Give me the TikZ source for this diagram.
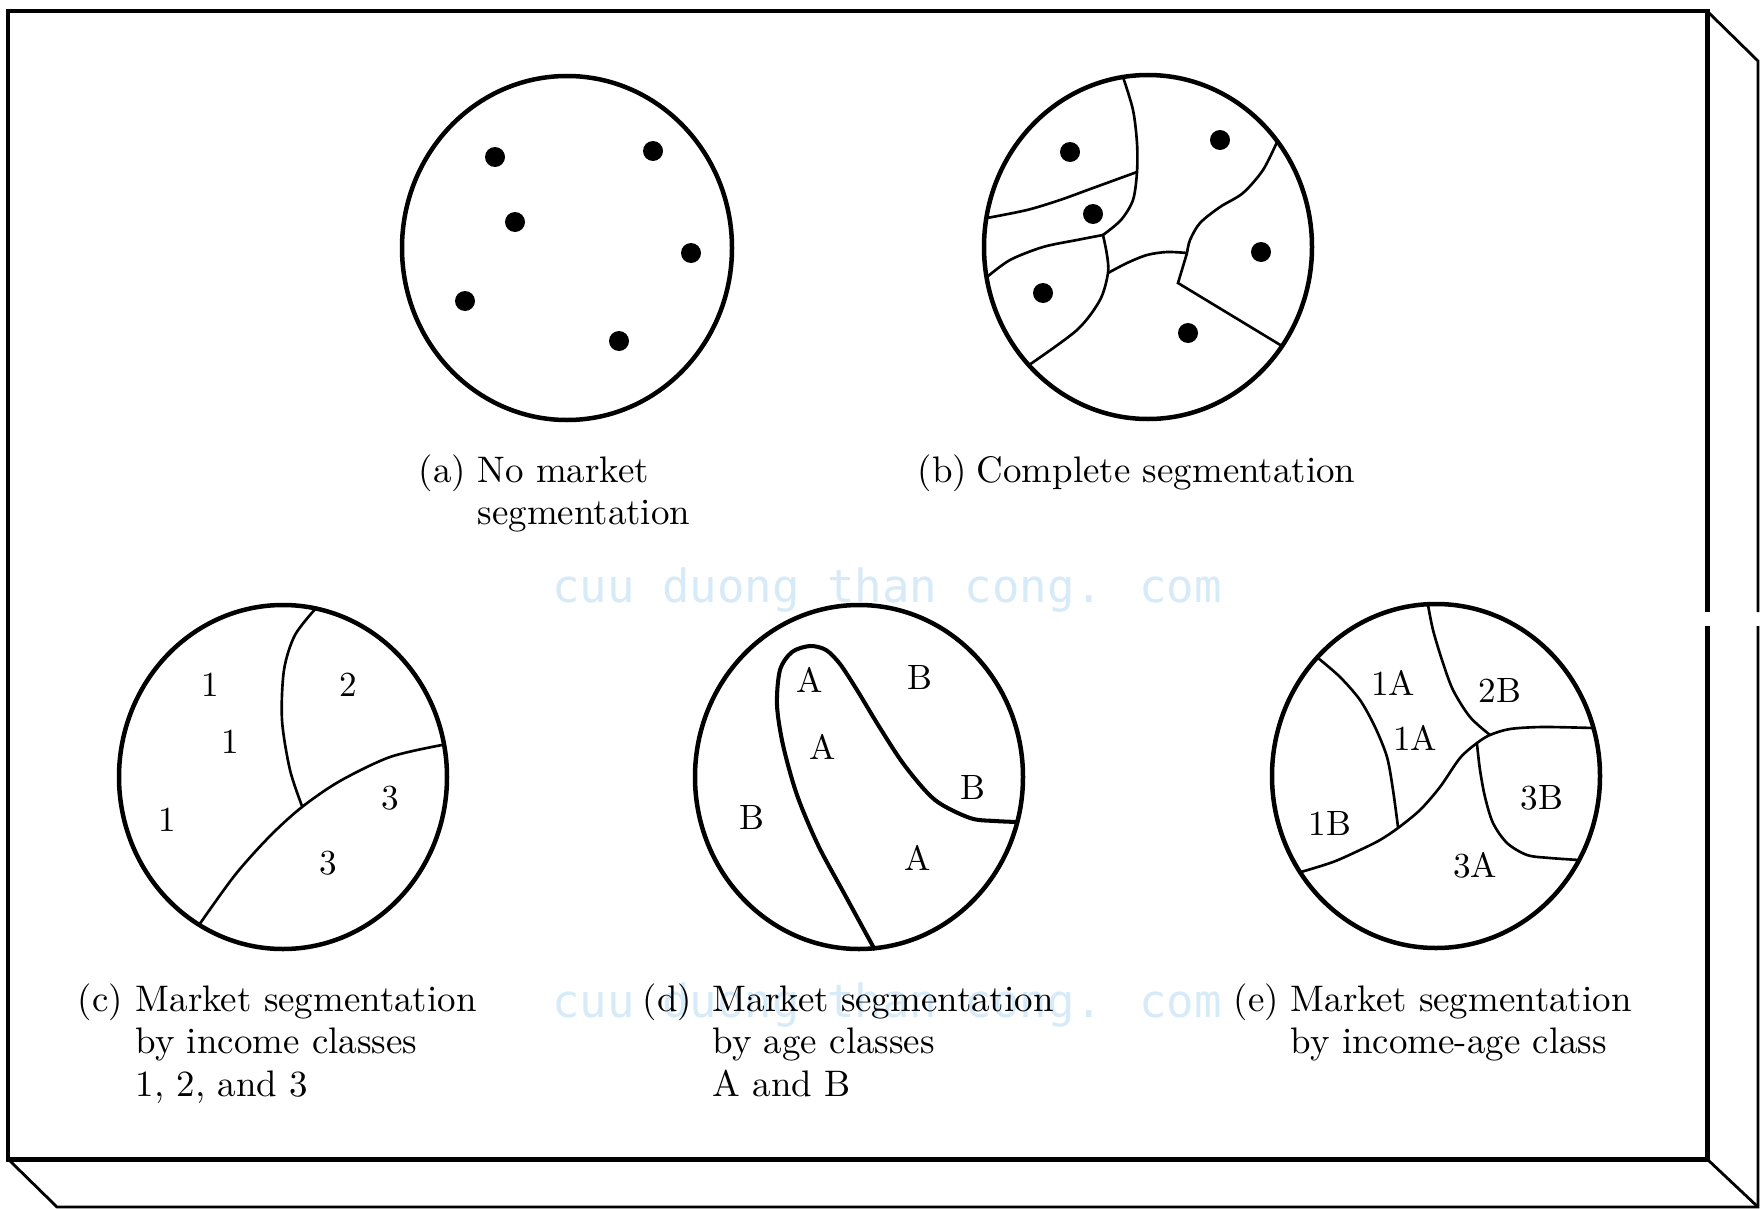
\documentclass[tikz,border=0pt]{standalone}
\usepackage{fontspec}
\newfontfamily\wmfont{DejaVu Sans Mono}
\definecolor{wmark}{HTML}{D6EAF8}

\begin{document}
\begin{tikzpicture}[x=0.01cm, y=-0.01cm,
        ring/.style={line width=1.28pt},
        seg/.style={line width=0.75pt},
        lbl/.style={font=\fontsize{10}{12}\selectfont, inner sep=0pt},
        captext/.style={font=\fontsize{10.5}{12.2}\selectfont, anchor=base west, inner sep=0pt},
        wm/.style={text=wmark, font=\wmfont\fontsize{13}{13}\selectfont, anchor=base, inner sep=0pt}]
        \useasboundingbox (0,0) rectangle (1760,1209);

        % box
        \draw[line width=1.42pt] (1707,612) -- (1707,11) -- (8,11) -- (8,1159) -- (1707,1159) -- (1707,626);
        \draw[line width=0.8pt] (1707,11) -- (1758,61) -- (1758,612);
        \draw[line width=0.8pt] (1758,626) -- (1758,1207) -- (57,1207) -- (8,1159);
        \draw[line width=0.8pt] (1707,1159) -- (1758,1207);

        \node[wm] (wm1) at (887,602) {cuu duong than cong. com};
        \node[wm] (wm2) at (887,1017) {cuu duong than cong. com};

        % (a)
        \draw[ring] (567,248) ellipse (165 and 172);
        \foreach \x/\y in {495/157, 653/151, 515/222, 691/253, 465/301, 619/341}
            \fill (\x,\y) circle (10);

        % (b)
        \draw[ring] (1148,247) ellipse (164 and 172);
        \foreach \x/\y in {1070/152, 1220/140, 1093/214, 1261/252, 1043/293, 1188/333}
            \fill (\x,\y) circle (10);
        \draw[seg] plot[smooth] coordinates {(1123,77) (1133,110) (1137,143) (1137,172) (1133,200) (1121,220) (1103,235)};
        \draw[seg] plot[smooth] coordinates {(987,218) (1027,210) (1060,200) (1093,188) (1137,172)};
        \draw[seg] plot[smooth] coordinates {(987,277) (1010,260) (1043,247) (1077,240) (1103,235)};
        \draw[seg] plot[smooth] coordinates {(1103,235) (1107,255) (1108,273) (1100,300) (1077,330) (1029,365)};
        \draw[seg] plot[smooth] coordinates {(1108,273) (1127,263) (1147,255) (1167,252) (1187,253)};
        \draw[seg] plot[smooth] coordinates {(1187,253) (1190,240) (1200,223) (1220,207) (1243,193) (1263,170) (1277,142)};
        \draw[seg] (1187,253) -- (1178,283) -- (1282,346);

        % (c)
        \draw[ring] (283,777) ellipse (164 and 172);
        \draw[seg] plot[smooth] coordinates {(317,607) (295,635) (284,670) (282,720) (290,770) (302,806)};
        \draw[seg] plot[smooth] coordinates {(199,925) (235,875) (270,836) (302,807) (340,781) (390,757) (442,745)};
        \node[lbl] (c1) at (210,685) {1};
        \node[lbl] (c2) at (348,685) {2};
        \node[lbl] (c3) at (230,742) {1};
        \node[lbl] (c4) at (390,798) {3};
        \node[lbl] (c5) at (167,820) {1};
        \node[lbl] (c6) at (328,863) {3};

        % (d)
        \draw[ring] (859,777) ellipse (164 and 172);
        \draw[line width=1.15pt] plot[smooth] coordinates {(875,950) (845,895) (818,845) (797,795) (783,745) (777,705) (780,670) (792,652) (810,646) (826,650) (840,664) (857,690) (880,728) (905,766) (935,800) (970,818) (995,821) (1018,822)};
        \node[lbl] (d1) at (810,680) {A};
        \node[lbl] (d2) at (920,677) {B};
        \node[lbl] (d3) at (823,747) {A};
        \node[lbl] (d4) at (973,787) {B};
        \node[lbl] (d5) at (752,817) {B};
        \node[lbl] (d6) at (918,858) {A};

        % (e)
        \draw[ring] (1436,776) ellipse (164 and 172);
        \draw[seg] plot[smooth] coordinates {(1318,658) (1340,677) (1360,700) (1375,727) (1387,757) (1393,790) (1398,827)};
        \draw[seg] plot[smooth] coordinates {(1301,872) (1333,862) (1360,850) (1380,840) (1398,828) (1420,810) (1440,787) (1460,758) (1477,743) (1490,735) (1510,729) (1543,727) (1593,728)};
        \draw[seg] plot[smooth] coordinates {(1428,605) (1433,630) (1442,660) (1453,690) (1470,717) (1490,735)};
        \draw[seg] plot[smooth] coordinates {(1477,744) (1480,770) (1485,797) (1493,823) (1507,843) (1527,855) (1550,858) (1579,860)};
        \node[lbl] (e1) at (1393,683) {1A};
        \node[lbl] (e2) at (1500,690) {2B};
        \node[lbl] (e3) at (1415,738) {1A};
        \node[lbl] (e4) at (1542,798) {3B};
        \node[lbl] (e5) at (1330,823) {1B};
        \node[lbl] (e6) at (1475,865) {3A};

        % captions
        \node[captext] (taga) at (418,482) {(a)};
        \node[captext] (capa) at (477,482) {\begin{tabular}[t]{@{}l@{}}No market\\segmentation\end{tabular}};
        \node[captext] (tagb) at (917,482) {(b)};
        \node[captext] (capb) at (976,482) {Complete segmentation};
        \node[captext] (tagc) at (77,1011) {(c)};
        \node[captext] (capc) at (135,1011) {\begin{tabular}[t]{@{}l@{}}Market segmentation\\by income classes\\1, 2, and 3\end{tabular}};
        \node[captext] (tagd) at (642,1011) {(d)};
        \node[captext] (capd) at (712,1011) {\begin{tabular}[t]{@{}l@{}}Market segmentation\\by age classes\\A and B\end{tabular}};
        \node[captext] (tage) at (1233,1011) {(e)};
        \node[captext] (cape) at (1290,1011) {\begin{tabular}[t]{@{}l@{}}Market segmentation\\by income-age class\end{tabular}};
    \end{tikzpicture}
\end{document}
